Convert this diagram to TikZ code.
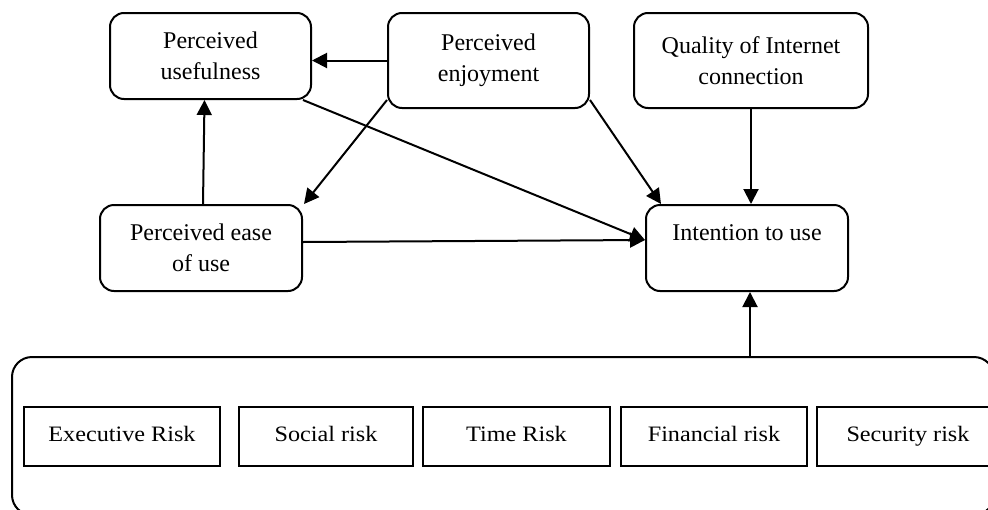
\documentclass[tikz,border=0pt]{standalone}
\usepackage{fontspec}
\setmainfont{Liberation Serif}
\newfontfamily\riskfont[FakeStretch=1.1]{Liberation Serif}
\usetikzlibrary{arrows.meta}
\begin{document}
\begin{tikzpicture}[x=1pt,y=-1pt,
  rbox/.style={draw, rounded corners=14pt, line width=2pt, align=center, inner sep=0pt, font=\fontsize{24}{31}\selectfont},
  rk/.style={draw, line width=2pt, inner sep=0pt, text height=15pt, text depth=5pt, font=\riskfont\fontsize{22}{26}\selectfont},
  arr/.style={-{Triangle[length=15pt,width=15pt]}, line width=2pt}]
\useasboundingbox (0,0) rectangle (988,509);
% top row
\node[rbox, minimum width=201pt, minimum height=86pt] (PU) at (210.5,56) {Perceived\\usefulness};
\node[rbox, minimum width=201pt, minimum height=95pt] (PE) at (488.5,60.5) {Perceived\\enjoyment};
\node[rbox, minimum width=234pt, minimum height=95pt] (QI) at (751,60.5) {Quality of Internet\\connection};
% middle row
\node[rbox, minimum width=202pt, minimum height=86pt] (EU) at (201,248) {Perceived ease\\of use};
\node[rbox, minimum width=202pt, minimum height=86pt] (IU) at (747,248) {Intention to use\\\mbox{}};
% risk container
\node[draw, rounded corners=20pt, line width=2pt, minimum width=982pt, minimum height=158pt, inner sep=0pt] (risks) at (503,436) {};
\node[rk, minimum width=196pt, minimum height=59pt] (r1) at (122,436.5) {Executive Risk};
\node[rk, minimum width=174pt, minimum height=59pt] (r2) at (326,436.5) {Social risk};
\node[rk, minimum width=187pt, minimum height=59pt] (r3) at (516.5,436.5) {Time Risk};
\node[rk, minimum width=186pt, minimum height=59pt] (r4) at (714,436.5) {Financial risk};
\node[rk, minimum width=182pt, minimum height=59pt] (r5) at (908,436.5) {Security risk};
% arrows
\draw[arr] (PE.west) -- (PE.west -| PU.east);
\draw[arr] ([xshift=2pt]EU.north) -- ([xshift=-6pt]PU.south);
\draw[arr] ([yshift=9pt]PE.south west) -- ([xshift=1pt]EU.north east);
\draw[arr] ([xshift=-9pt]PU.south east) -- ([yshift=8pt]IU.west);
\draw[arr] ([yshift=6pt]EU.east) -- ([yshift=8pt]IU.west);
\draw[arr] ([yshift=9pt]PE.south east) -- ([xshift=16pt]IU.north west);
\draw[arr] (QI.south) -- (QI.south |- IU.north);
\draw[arr] ([xshift=3pt]IU.south |- risks.north) -- ([xshift=3pt]IU.south);
\end{tikzpicture}
\end{document}
